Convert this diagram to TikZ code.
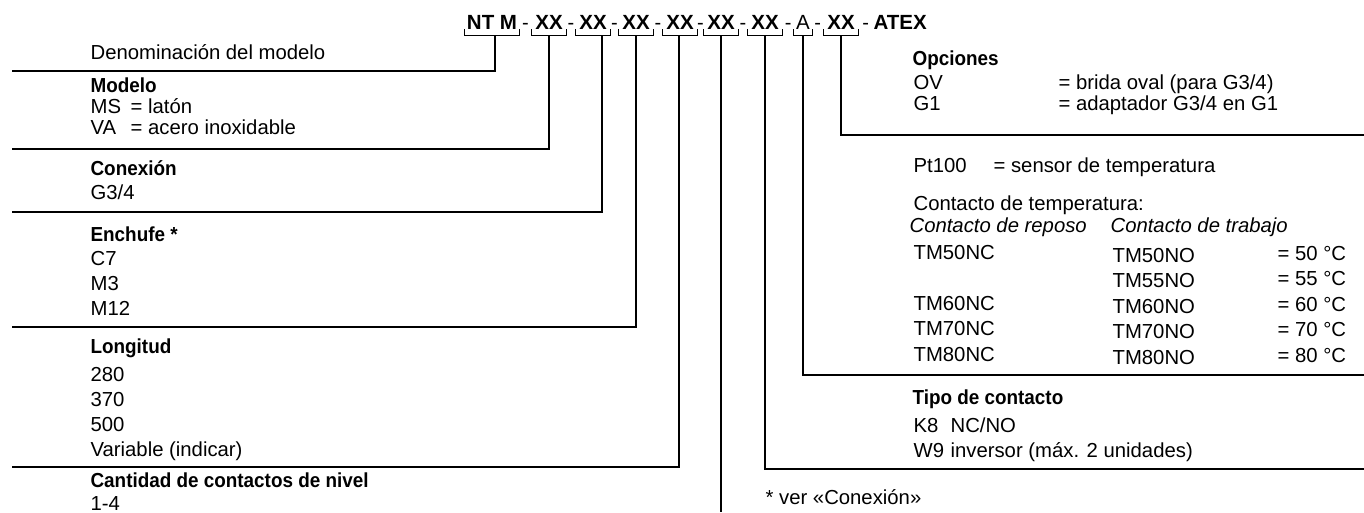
\documentclass[tikz,border=0pt]{standalone}
\usepackage{fontspec}
\setmainfont{Liberation Sans}
\usetikzlibrary{positioning, calc}
\newcommand{\hd}[1]{\scalebox{0.93}[1]{\bfseries #1}}

\begin{document}
\begin{tikzpicture}[
  x=1pt, y=-1pt, line width=1.2pt,
  every node/.style={inner sep=0pt, anchor=base west, font=\fontsize{20.3}{24}\selectfont},
  slant/.style={font=\fontsize{20.3}{24}\selectfont\itshape},
  part/.style={anchor=base, minimum width=34pt, font=\fontsize{20.5}{24}\selectfont\bfseries},
  bar/.style={anchor=base, font=\fontsize{20}{24}\selectfont}
]
\useasboundingbox (0,0) rectangle (1364,512);

% Type code
\node[part, minimum width=54pt] (nt) at (492,29) {NT M};
\node[part] (p1) at (549,29) {XX};
\node[part] (p2) at (593,29) {XX};
\node[part] (p3) at (636,29) {XX};
\node[part] (p4) at (680,29) {XX};
\node[part] (p5) at (721,29) {XX};
\node[part] (p6) at (765,29) {XX};
\node[part, minimum width=17pt, font=\fontsize{20.5}{24}\selectfont] (pa) at (803,29) {A};
\node[part] (p7) at (841,29) {XX};
\node[part, anchor=base west, minimum width=0pt] (atex) at (873,29) {ATEX};
\foreach \a/\b in {nt/p1, p1/p2, p2/p3, p3/p4, p4/p5, p5/p6, p6/pa, pa/p7, p7/atex}
  \node[bar] at ($(\a.base east)!0.5!(\b.base west)$) {-};
\foreach \p in {nt, p1, p2, p3, p4, p5, p6, pa, p7}
  \draw[line width=1pt] (\p.base west) -- ++(0,6) -| (\p.base east);

% Leader ends
\coordinate (l0) at (12,71);
\coordinate (l1) at (12,149);
\coordinate (l2) at (12,212);
\coordinate (l3) at (12,327);
\coordinate (l4) at (12,467);
\coordinate (l5) at (721,512);
\coordinate (r6) at (1364,469);
\coordinate (r7) at (1364,375);
\coordinate (r8) at (1364,135);

\draw ($(nt.base)+(3,6)$) |- (l0);
\draw ($(p1.base)+(0,6)$) |- (l1);
\draw ($(p2.base)+(9,6)$) |- (l2);
\draw ($(p3.base)+(0,6)$) |- (l3);
\draw ($(p4.base)+(-1,6)$) |- (l4);
\draw ($(p5.base)+(0,6)$) -- (l5);
\draw ($(p6.base)+(0,6)$) |- (r6);
\draw ($(pa.base)+(0,6)$) |- (r7);
\draw ($(p7.base)+(0,6)$) |- (r8);

% Left legend
\node (den) at (90,59) {Denominación del modelo};
\node (mod) at (90,92) {\hd{Modelo}};
\node (ms) at (90,113) {\makebox[40pt][l]{MS}= latón};
\node (va) at (90,134) {\makebox[40pt][l]{VA}= acero inoxidable};
\node (con) at (90,175) {\hd{Conexión}};
\node (g34) at (90,199) {G3/4};
\node (enc) at (90,241) {\hd{Enchufe *}};
\foreach \t/\y in {C7/265, M3/290, M12/315}
  \node at (90,\y) {\t};
\node (lon) at (90,353) {\hd{Longitud}};
\foreach \t/\y in {280/381, 370/406, 500/431, Variable (indicar)/456}
  \node at (90,\y) {\t};
\node (can) at (90,487) {\hd{Cantidad de contactos de nivel}};
\node (n14) at (90,510) {1-4};

% Right legend
\node (opc) at (912,65) {\hd{Opciones}};
\node (ov) at (913,89) {\makebox[145pt][l]{OV}= brida oval (para G3/4)};
\node (g1) at (913,110) {\makebox[145pt][l]{G1}= adaptador G3/4 en G1};
\node (pt) at (913,172) {\makebox[80pt][l]{Pt100}= sensor de temperatura};
\node (ctemp) at (913,210) {Contacto de temperatura:};
\node[slant] (rep) at (909,232) {Contacto de reposo};
\node[slant] (trab) at (1110,232) {Contacto de trabajo};
\foreach \nc/\no/\deg/\y in {TM50NC/TM50NO/50/259, /TM55NO/55/284.5, TM60NC/TM60NO/60/310,
    TM70NC/TM70NO/70/335.5, TM80NC/TM80NO/80/361}{
  \node at (913,\y) {\nc};
  \node at (1112,\y+3) {\no};
  \node at (1277,\y+1) {= \deg\ °C};
}
\node (tipo) at (912,404) {\hd{Tipo de contacto}};
\node (k8) at (913,432) {\makebox[37pt][l]{K8}NC/NO};
\node (w9) at (913,457) {\makebox[37pt][l]{W9}inversor (máx. 2 unidades)};
\node (ver) at (765,504) {* ver «Conexión»};
\end{tikzpicture}
\end{document}
